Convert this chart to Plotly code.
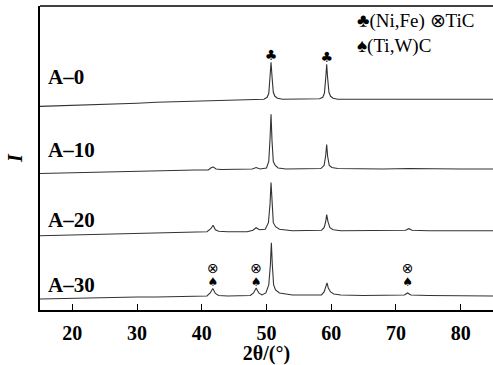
import plotly.graph_objects as go

# ---------------- data ----------------
sample_names = ["A–0", "A–10", "A–20", "A–30"]
stack_offsets = [203, 136, 74, 11]

tt_a0 = [15, 18, 21, 24, 27, 30, 33, 36, 39, 42, 45, 48, 49.6, 50.1, 50.35, 50.55, 50.7, 50.85, 51.05, 51.3, 51.7, 52.5, 55, 57,
         58.2, 58.7, 58.95, 59.15, 59.3, 59.45, 59.65, 59.9, 60.3, 61, 64, 68, 72, 76, 80, 85]
int_a0 = [0, 0.5, 1.5, 2, 2.5, 3, 4, 4.5, 5, 5.5, 6.5, 6.5, 7, 9, 13, 30, 44, 30, 14, 10, 8, 7, 7, 7,
          7.5, 9, 13, 28, 42, 28, 14, 10, 8, 7, 7, 7, 7, 7.5, 7, 7]

tt_a10 = [15, 18, 21, 24, 27, 30, 33, 36, 39, 41.0, 41.5, 41.8, 42.2, 43, 46, 47.8, 48.4, 49, 50.0, 50.35, 50.55, 50.7, 50.85,
          51.05, 51.35, 51.8, 53, 56, 58.4, 58.9, 59.15, 59.3, 59.45, 59.7, 60.1, 61, 64, 68, 72, 76, 80, 85]
int_a10 = [0, 0.5, 1, 1.5, 2, 2.5, 3, 3, 3.5, 3.5, 6, 6.5, 4.5, 4, 4, 4.5, 6, 4.5, 5.5, 12, 35, 59, 33,
           12, 8, 5.5, 4.5, 4.5, 5, 8, 18, 29, 17, 8, 6, 5, 4.5, 4.5, 5, 4.5, 4.5, 4.5]

tt_a20 = [15, 18, 21, 24, 27, 30, 33, 36, 39, 40.8, 41.4, 41.75, 42.1, 42.6, 44, 47, 47.9, 48.4, 48.9, 49.8, 50.3, 50.55, 50.7,
          50.85, 51.05, 51.4, 52, 54, 57, 58.5, 58.9, 59.15, 59.3, 59.5, 59.8, 60.3, 61.5, 65, 70, 71.5, 72, 72.5, 75, 80, 85]
int_a20 = [0, 0.5, 1, 1.5, 2, 2.5, 3, 3, 3.5, 4, 7, 10.5, 6, 4.5, 4, 4, 5.5, 8, 6, 6.5, 13, 32, 53,
           30, 13, 9, 6.5, 5, 5, 5.5, 8, 14, 21, 14, 8, 6, 5, 5, 5, 5.5, 7, 5.5, 5, 5, 5]

tt_a30 = [15, 18, 21, 24, 27, 30, 33, 36, 39, 40.8, 41.3, 41.7, 42.1, 42.6, 44, 46, 47.5, 48.0, 48.4, 48.8, 49.3, 49.9, 50.35,
          50.6, 50.75, 50.9, 51.1, 51.4, 52, 54, 57, 58.5, 58.9, 59.2, 59.35, 59.55, 59.9, 60.4, 61.5, 65, 70, 71.3, 71.8,
          72.3, 75, 80, 85]
int_a30 = [0, 0.5, 1, 1.2, 1.5, 2, 2, 2.5, 2.5, 3, 6, 10.5, 5.5, 3.5, 3, 3, 3.5, 6, 11, 6, 4, 6, 14,
           34, 56, 34, 14, 9, 6, 4, 3.5, 4, 7, 12, 16, 11, 7, 5, 4, 3.5, 3.5, 4, 6,
           4, 3.5, 3, 3]

patterns_tt = [tt_a0, tt_a10, tt_a20, tt_a30]
patterns_int = [int_a0, int_a10, int_a20, int_a30]

# phase marks: (Ni,Fe) on A-0, (Ti,W)C + TiC on A-30
nife_peaks_tt = [50.7, 59.3]
nife_peaks_int = [44, 42]
tiwc_peaks_tt = [41.7, 48.4, 71.8]
tiwc_peaks_int = [10.5, 11, 6]

x_ticks = [20, 30, 40, 50, 60, 70, 80]
x_title = "2θ/(°)"
y_title = "I"
legend_line1 = "♣(Ni,Fe) ⊗TiC"
legend_line2 = "♠(Ti,W)C"

# ---------------- figure ----------------
SERIF = "Liberation Serif, Times New Roman, serif"
fig = go.Figure()

for tt, inten, off in zip(patterns_tt, patterns_int, stack_offsets):
    fig.add_trace(go.Scatter(x=tt, y=[v + off for v in inten], mode="lines",
                             line=dict(color="#333333", width=1.1), showlegend=False, hoverinfo="skip"))

# ♣ over (Ni,Fe) peaks of A-0
fig.add_trace(go.Scatter(x=nife_peaks_tt, y=[v + stack_offsets[0] + 6 for v in nife_peaks_int],
                         mode="text", text=["♣"] * len(nife_peaks_tt),
                         textfont=dict(size=14, color="black", family="DejaVu Sans"),
                         showlegend=False, hoverinfo="skip"))
# ♠ and ⊗ over A-30 minor peaks
fig.add_trace(go.Scatter(x=tiwc_peaks_tt, y=[16 + stack_offsets[3] for _ in tiwc_peaks_int],
                         mode="text", text=["♠"] * len(tiwc_peaks_tt),
                         textfont=dict(size=12, color="black", family="DejaVu Sans"),
                         showlegend=False, hoverinfo="skip"))
fig.add_trace(go.Scatter(x=tiwc_peaks_tt, y=[29 + stack_offsets[3] for _ in tiwc_peaks_int],
                         mode="text", text=["⊗"] * len(tiwc_peaks_tt),
                         textfont=dict(size=14, color="black", family="DejaVu Sans"),
                         showlegend=False, hoverinfo="skip"))

label_y = [232, 159, 90, 25]
for name, ly in zip(sample_names, label_y):
    fig.add_annotation(x=16.0, y=ly, text=name, showarrow=False, xanchor="left", yanchor="middle",
                       font=dict(family=SERIF, size=21, color="black", weight="bold"))

fig.add_annotation(x=63.7, y=288, text=legend_line1, showarrow=False, xanchor="left", yanchor="middle",
                   font=dict(family=SERIF, size=19, color="black"))
fig.add_annotation(x=63.7, y=263, text=legend_line2, showarrow=False, xanchor="left", yanchor="middle",
                   font=dict(family=SERIF, size=19, color="black"))

# top border
fig.add_shape(type="line", xref="paper", yref="paper", x0=0, x1=1, y0=1, y1=1,
              line=dict(color="black", width=1.5))

fig.update_layout(
    width=493, height=365,
    margin=dict(l=40, r=0, t=6, b=55),
    plot_bgcolor="white", paper_bgcolor="white",
    xaxis=dict(range=[15, 85], tickvals=x_ticks, ticks="inside", ticklen=6, tickwidth=1.2,
               tickcolor="black", showline=True, linecolor="black", linewidth=1.5,
               showgrid=False, zeroline=False, ticklabelstandoff=4, automargin=False,
               tickfont=dict(family=SERIF, size=20, color="black", weight="bold"),
               title=dict(text=x_title, standoff=0,
                          font=dict(family=SERIF, size=20, color="black", weight="bold"))),
    yaxis=dict(range=[0, 303], showticklabels=False, ticks="", showline=True, linecolor="black",
               linewidth=1.5, showgrid=False, zeroline=False, automargin=False,
               title=dict(text="<i>" + y_title + "</i>", standoff=10,
                          font=dict(family=SERIF, size=20, color="black", weight="bold"))),
)

fig.write_html("out.html", config={"displayModeBar": False},
               post_script="document.body.style.margin='0';document.body.style.overflow='hidden';")
